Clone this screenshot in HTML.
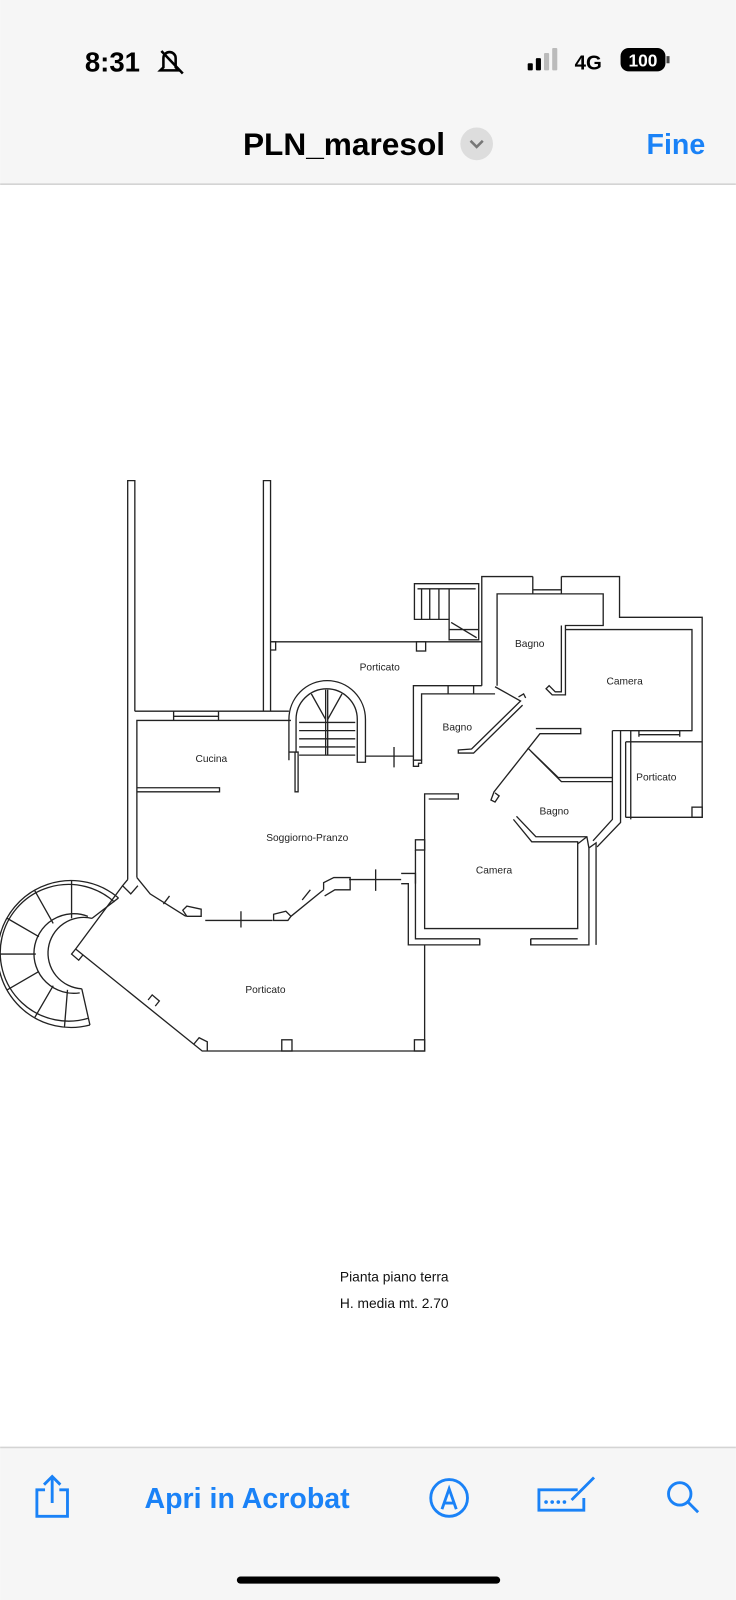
<!DOCTYPE html>
<html><head><meta charset="utf-8"><style>
html,body{margin:0;padding:0;background:#fff;}
svg{display:block}
</style></head><body>
<svg width="736" height="1600" viewBox="0 0 721 1568" xmlns="http://www.w3.org/2000/svg" font-family="Liberation Sans, sans-serif">
<rect x="0" y="0" width="721" height="180" fill="#f6f6f6"/>
<line x1="0" y1="180.5" x2="721" y2="180.5" stroke="#d4d4d4" stroke-width="1.5"/>
<text x="83" y="70" font-size="27" font-weight="bold" fill="#000">8:31</text>
<g stroke="#000" stroke-width="2.5" fill="none"><path d="M160 66 v-9 a6 6 0 0 1 12 0 v9 l3 3 h-18z"/><line x1="158" y1="50" x2="179" y2="72"/></g>
<rect x="517" y="62" width="5" height="7" rx="1" fill="#000"/><rect x="525" y="57" width="5" height="12" rx="1" fill="#000"/><rect x="533" y="52" width="5" height="17" rx="1" fill="#bbb"/><rect x="541" y="47" width="5" height="22" rx="1" fill="#bbb"/>
<text x="563" y="68" font-size="20" font-weight="bold" fill="#000">4G</text>
<rect x="608" y="47" width="44" height="23" rx="8" fill="#000"/><text x="630" y="65" font-size="17" font-weight="bold" fill="#fff" text-anchor="middle">100</text><rect x="653" y="55" width="3" height="7" fill="#444"/>
<text x="337" y="152" font-size="31" font-weight="bold" fill="#000" text-anchor="middle">PLN_maresol</text>
<circle cx="467" cy="141" r="16" fill="#ddd"/><path d="M461 138 l6 6 l6 -6" stroke="#777" stroke-width="2.5" fill="none"/>
<text x="691" y="151" font-size="28" font-weight="bold" fill="#1a82f7" text-anchor="end">Fine</text>

<g stroke="#222" stroke-width="1.3" fill="none">
<path d="M125 862 V471 H132 V697"/>
<path d="M134 860 V706 H285"/>
<path d="M132 697 H283"/>
<path d="M170 697 V706 M214 697 V706 M170 702 H214"/>
<path d="M258 697 V471 H265 V697"/>
<path d="M134 772 H215 V776 H134"/>
<path d="M265 629 H472"/>
<path d="M265 629 h5 v8 h-5"/>
<rect x="408" y="629" width="9" height="9"/>
<path d="M283 745 V705 A37.5 38 0 0 1 358 705 V747 H350 V705 A30 30 0 0 0 290 705 V737 H283"/>
<path d="M290 737 H292 V776 H289 V737"/>
<path d="M293 708 H348 M293 716 H348 M293 724 H348 M293 732 H348 M293 740 H348"/>
<path d="M319 676 V740 M321 676 V740"/>
<path d="M305 680 L319 705 M335 680 L321 705"/>
<path d="M358 741 H405 M386 732 V752"/>
<path d="M405 745 V672 H472 M413 745 V680 H485"/>
<path d="M439 672 V680 M464 672 V680"/>
<path d="M405 745 h8 v3 h-3 v3 h-5z"/>
<path d="M485 673 L510 687 L462 734 L449 735 V738 L464 738 L512 691"/>
<path d="M508 683 l5 -3 l2 4"/>
<path d="M406 572 H469 V627 H440 V607 H406 Z"/>
<path d="M409 577 H466"/>
<path d="M413 577 V607 M421 577 V607 M430 577 V607 M440 577 V607 M440 617 H469 M442 610 L467 625"/>
<path d="M472 672 V565 H522 M550 565 H607 V605 H688 V801 H613"/>
<path d="M522 565 V582 M550 565 V582 M522 578 H550"/>
<path d="M487 672 V582 H591 V613 H554 V681 H541 l-6 -6 l3 -3 l6 6 h6 V613"/>
<path d="M554 617 H678 V716 H618"/>
<path d="M600 716 H678 M626 716 V722 M666 716 V722 M626 720 H666"/>
<path d="M613 727 H688 M613 727 V801"/>
<rect x="678" y="791" width="10" height="10"/>
<path d="M600 716 V803 L581 824 M608 716 V806 L585 830 M618 716 V803"/>
<path d="M525 714 H569 V719 H529 L484 776 L481 784 l4 2 l4 -6 l-4 -3"/>
<path d="M517 733 L547 762 H600 M520 736 L550 766 H600"/>
<path d="M503 803 L521 825 H566 V910 H416 V778 H449 V783 H420"/>
<path d="M506 800 L525 820 H575 L577 831 V926 H520 V920 M470 920 V926 H400 V866 H393 M407 833 V920 H470 M520 920 H566"/>
<path d="M470 920 V926 M520 920 V926"/>
<path d="M577 831 L584 826 V926 M566 827 L575 820"/>
<rect x="407" y="823" width="9" height="10"/>
<path d="M393 856 H407 V866"/>
<path d="M342 862 H393 M368 852 V873"/>
<path d="M134 860 L147 876 L182 898 M201 902 H267 M285 898 L317 872"/>
<path d="M125 862 L120 868 L128 876 L135 868"/>
<path d="M179 892 l4 -4 l14 3 v7 h-14 z"/>
<path d="M268 902 v-6 l12 -3 l5 5 l-3 4z"/>
<path d="M317 872 v-7 l10 -5 h16 v12 h-15 l-10 6"/>
<path d="M160 886 l6 -8 M236 893 v16 M296 882 l8 -10"/>
<path d="M120 868 L74 930 L198 1030 H416 V926"/>
<path d="M74 930 l-4 5 l7 6 l4 -5"/>
<path d="M145 980 l4 -5 l7 6 l-4 5"/>
<path d="M190 1023 l5 -6 l8 4 v9"/>
<rect x="276" y="1019" width="10" height="11"/>
<rect x="406" y="1019" width="10" height="11"/>
<path d="M116 880 A72 72 0 1 0 88 1004.5"/>
<path d="M112 884 A67 67 0 1 0 86 998"/>
<path d="M90 900 A35 35 0 1 0 80 969"/>
<path d="M86 898 A39 39 0 1 0 78 973"/>
<path d="M88 1004.5 L80 969 M116 880 L90 900"/>
<path d="M70 863 V900 M34 873 L52 905 M7 900 L38 918 M-2 935 H35 M7 970 L38 952 M34 997 L52 966 M63 1007 L66 970"/>
</g>
<g font-size="10" fill="#222" text-anchor="middle">
<text x="372" y="657">Porticato</text>
<text x="207" y="747">Cucina</text>
<text x="519" y="634">Bagno</text>
<text x="612" y="671">Camera</text>
<text x="448" y="716">Bagno</text>
<text x="643" y="765">Porticato</text>
<text x="543" y="798">Bagno</text>
<text x="301" y="824">Soggiorno-Pranzo</text>
<text x="484" y="856">Camera</text>
<text x="260" y="973">Porticato</text>
</g>
<text x="333" y="1256" font-size="13.5" fill="#111">Pianta piano terra</text>
<text x="333" y="1282" font-size="13.5" fill="#111">H. media mt. 2.70</text>

<rect x="0" y="1418" width="721" height="150" fill="#f6f6f6"/>
<line x1="0" y1="1418.5" x2="721" y2="1418.5" stroke="#d4d4d4" stroke-width="1.5"/>
<g stroke="#1a82f7" stroke-width="2.8" fill="none">
<path d="M44 1460 h-8 v26 h30 v-26 h-8 M51 1473 v-26 M43 1455 l8 -8 l8 8"/>
<circle cx="440" cy="1468" r="18"/><path d="M433 1479 l7 -20 l7 20 M436 1473 h8"/>
<path d="M566 1460 h-38 v20 h44 v-12"/><path d="M560 1470 l22 -22"/>
<circle cx="666" cy="1464" r="11"/><path d="M674 1472 l10 10"/>
</g>
<g fill="#1a82f7"><circle cx="535" cy="1472" r="1.8"/><circle cx="541" cy="1472" r="1.8"/><circle cx="547" cy="1472" r="1.8"/><circle cx="553" cy="1472" r="1.8"/></g>
<text x="242" y="1478" font-size="28" font-weight="bold" fill="#1a82f7" text-anchor="middle">Apri in Acrobat</text>
<rect x="232" y="1545" width="258" height="7" rx="3.5" fill="#000"/>
</svg>
</body></html>
